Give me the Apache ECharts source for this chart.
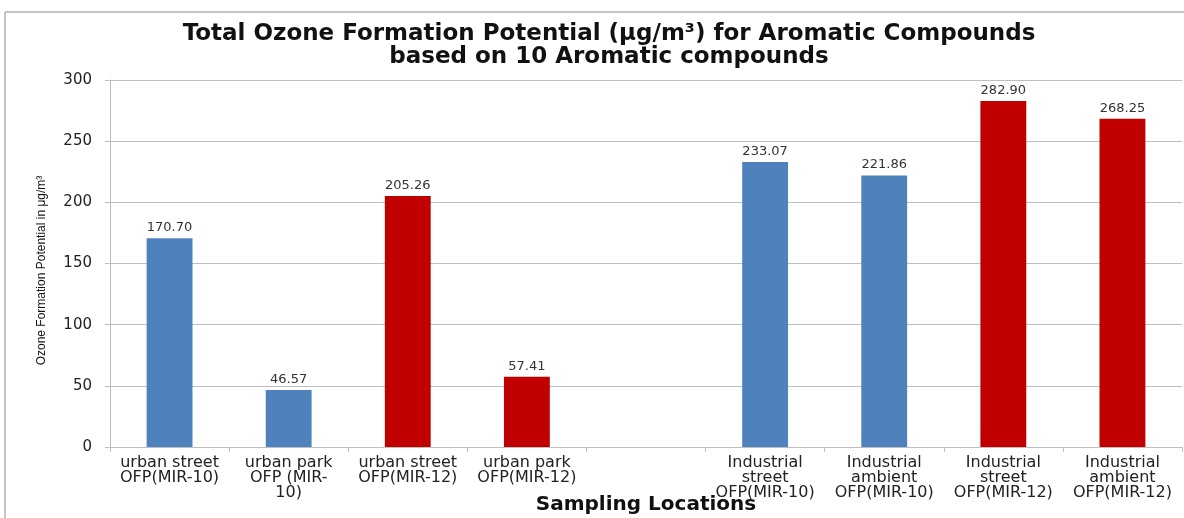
<!DOCTYPE html>
<html>
<head>
<meta charset="utf-8">
<script src="https://cdn.jsdelivr.net/npm/echarts@6/dist/echarts.min.js"></script>
<style>
html, body { margin: 0; padding: 0; background: #fff; }
#main { width: 1184px; height: 518px; }
</style>
</head>
<body>
<div id="main"></div>
<script>
// categories (the empty one is the gap between urban and industrial sites)
var categories = [
    'urban street\nOFP(MIR-10)',
    'urban park\nOFP (MIR-\n10)',
    'urban street\nOFP(MIR-12)',
    'urban park\nOFP(MIR-12)',
    '',
    'Industrial\nstreet\nOFP(MIR-10)',
    'Industrial\nambient\nOFP(MIR-10)',
    'Industrial\nstreet\nOFP(MIR-12)',
    'Industrial\nambient\nOFP(MIR-12)'
];
// MIR-10 bars (blue)
var mir10 = [170.70, 46.57, null, null, null, 233.07, 221.86, null, null];
// MIR-12 bars (red)
var mir12 = [null, null, 205.26, 57.41, null, null, null, 282.90, 268.25];

var chart = echarts.init(document.getElementById('main'));

function barSeries(name, data, color) {
    return {
        name: name,
        type: 'bar',
        data: data,
        barWidth: '38.5%',
        barGap: '-100%',
        itemStyle: { color: color },
        label: {
            show: true,
            position: 'top',
            distance: 4,
            color: '#333',
            fontFamily: 'DejaVu Sans',
            fontSize: 13,
            formatter: function (p) { return p.value == null ? '' : p.value.toFixed(2); }
        }
    };
}

var option = {
    animation: false,
    backgroundColor: '#fff',
    title: {
        text: 'Total Ozone Formation Potential (μg/m³) for Aromatic Compounds\nbased on 10 Aromatic compounds',
        left: 604,
        textAlign: 'center',
        top: 18,
        textStyle: {
            fontFamily: 'DejaVu Sans',
            fontWeight: 'bold',
            fontSize: 23,
            lineHeight: 23,
            color: '#111'
        }
    },
    graphic: [{
        type: 'rect',
        shape: { x: 5, y: 12, width: 1200, height: 520 },
        style: { fill: 'none', stroke: '#8c8c8c', lineWidth: 1 },
        silent: true
    }],
    grid: { left: 110, right: 2, top: 80, bottom: 71, outerBoundsMode: 'none', containLabel: false },
    xAxis: {
        type: 'category',
        data: categories,
        name: 'Sampling Locations',
        nameLocation: 'middle',
        nameGap: 48,
        nameMoveOverlap: false,
        nameTextStyle: {
            fontFamily: 'DejaVu Sans',
            fontWeight: 'bold',
            fontSize: 20,
            color: '#111'
        },
        axisLine: { lineStyle: { color: '#bfbfbf' } },
        axisTick: { show: true, length: 5, lineStyle: { color: '#bfbfbf' } },
        axisLabel: {
            interval: 0,
            margin: 8,
            fontFamily: 'DejaVu Sans',
            fontSize: 16,
            lineHeight: 15,
            color: '#222'
        }
    },
    yAxis: {
        type: 'value',
        min: 0,
        max: 300,
        interval: 50,
        name: 'Ozone Formation Potential in μg/m³',
        nameLocation: 'middle',
        nameGap: 62,
        nameMoveOverlap: false,
        nameTextStyle: {
            fontFamily: 'Liberation Sans',
            fontSize: 12,
            color: '#111',
            padding: [0, 0, 0, -14]
        },
        axisLine: { show: true, lineStyle: { color: '#bfbfbf' } },
        axisTick: { show: true, length: 5, lineStyle: { color: '#bfbfbf' } },
        axisLabel: {
            margin: 18,
            fontFamily: 'DejaVu Sans',
            fontSize: 15,
            color: '#222'
        },
        splitLine: { lineStyle: { color: '#bfbfbf' } }
    },
    series: [
        barSeries('MIR-10', mir10, '#4f81bd'),
        barSeries('MIR-12', mir12, '#c00000')
    ]
};

chart.setOption(option);
</script>
</body>
</html>
